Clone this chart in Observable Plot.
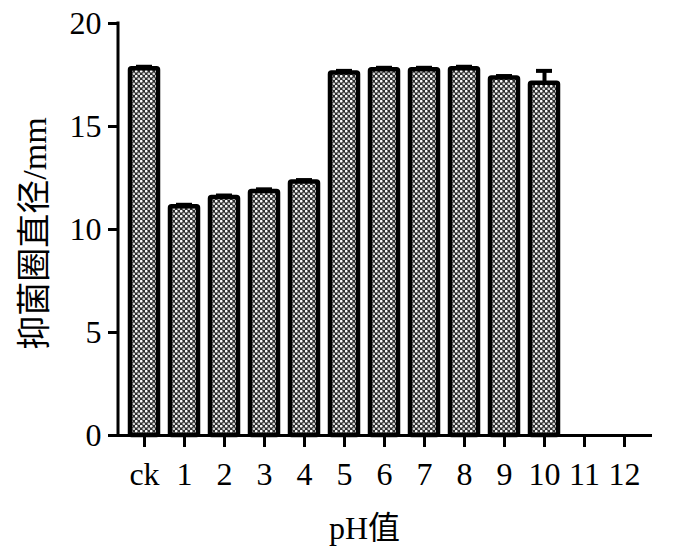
<!DOCTYPE html>
<html>
<head>
<meta charset="utf-8">
<script src="https://cdn.jsdelivr.net/npm/d3@7"></script>
<script src="https://cdn.jsdelivr.net/npm/@observablehq/plot@0.6"></script>
<style>
  html, body { margin: 0; padding: 0; background: #fff; }
  #chart { width: 684px; height: 555px; }
</style>
</head>
<body>
<div id="chart"></div>
<script>
const categories = ["ck", "1", "2", "3", "4", "5", "6", "7", "8", "9", "10", "11", "12"];
const values = [17.8, 11.1, 11.55, 11.85, 12.3, 17.6, 17.75, 17.75, 17.8, 17.35, 17.1, 0, 0];
const errors = [0.1, 0.1, 0.1, 0.1, 0.1, 0.1, 0.1, 0.1, 0.1, 0.1, 0.6, 0, 0];
const yTicks = [0, 5, 10, 15, 20];
const yLabel = "抑菌圈直径/mm";
const xLabel = "pH值";

const data = categories.map((c, i) => ({cat: c, v: values[i], e: errors[i]}));
const withBars = data.filter(d => d.v > 0);

const serif = "'Liberation Serif', 'Times New Roman', 'Noto Sans CJK SC', serif";

const chart = Plot.plot({
  width: 684,
  height: 555,
  marginTop: 23,
  marginBottom: 120,
  marginLeft: 118,
  marginRight: 34,
  style: {fontFamily: serif, fontSize: "32px", color: "#000", background: "#fff"},
  x: {domain: categories, paddingInner: 0.31, paddingOuter: 0.196, label: null},
  y: {domain: [0, 20], label: null},
  marks: [
    Plot.barY(withBars, {x: "cat", y: "v", fill: "url(#chk)", stroke: "#000", strokeWidth: 4.5, rx: 1.5}),
    Plot.ruleX(withBars, {x: "cat", y1: "v", y2: d => d.v + d.e, stroke: "#000", strokeWidth: 4}),
    Plot.tickY(withBars, {x: "cat", y: d => d.v + d.e, stroke: "#000", strokeWidth: 4, insetLeft: 6, insetRight: 6}),
    Plot.ruleY([0], {stroke: "#000", strokeWidth: 3, insetLeft: -10, insetRight: -2}),
    Plot.axisY({ticks: yTicks, tickSize: 10, tickPadding: 7, strokeWidth: 3, fontSize: 32, label: null}),
    Plot.axisX({tickSize: 12, tickPadding: 15, strokeWidth: 3, fontSize: 32, label: null}),
    Plot.text([yLabel], {frameAnchor: "left", textAnchor: "middle", lineAnchor: "middle", rotate: -90, dx: -83, dy: 4, fontSize: 34, fill: "#000"}),
    Plot.text([xLabel], {frameAnchor: "bottom", textAnchor: "middle", lineAnchor: "bottom", dy: 103, dx: -20, fontSize: 32, fill: "#000"})
  ]
});

// pattern fill for the bars
const svg = d3.select(chart);
const defs = svg.insert("defs", ":first-child");
const pat = defs.append("pattern")
  .attr("id", "chk").attr("patternUnits", "userSpaceOnUse")
  .attr("width", 5).attr("height", 5);
pat.append("rect").attr("width", 5).attr("height", 5).attr("fill", "#2e2e2e");
pat.append("circle").attr("cx", 1.25).attr("cy", 1.25).attr("r", 1.35).attr("fill", "#fff");
pat.append("circle").attr("cx", 3.75).attr("cy", 3.75).attr("r", 1.35).attr("fill", "#cfcfcf");

// y axis line drawn from the chart's own scales
const xs = chart.scale("x"), ys = chart.scale("y");
svg.append("line")
  .attr("x1", xs.range[0]).attr("x2", xs.range[0])
  .attr("y1", ys.apply(0) + 1.5).attr("y2", ys.apply(20) - 1.5)
  .attr("stroke", "#000").attr("stroke-width", 3);

document.getElementById("chart").appendChild(chart);
</script>
</body>
</html>
